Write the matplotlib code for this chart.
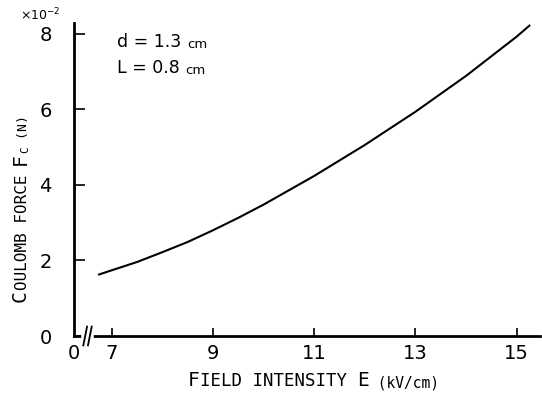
import matplotlib
matplotlib.use("Agg")
import matplotlib.pyplot as plt

# curve (E in kV/cm, Fc in 1e-2 N)
field = [6.75, 7, 7.5, 8, 8.5, 9, 9.5, 10, 11, 12, 13, 14, 15, 15.25]
force = [1.63, 1.74, 1.96, 2.22, 2.49, 2.80, 3.13, 3.48, 4.24, 5.06, 5.94, 6.89, 7.93, 8.22]
xticks = [7, 9, 11, 13, 15]
yticks = [0, 2, 4, 6, 8]

plt.rcParams["font.family"] = "DejaVu Sans"
mono = "DejaVu Sans Mono"

fig = plt.figure(figsize=(5.42, 3.96), dpi=100)
ax = fig.add_axes([74 / 542, 60 / 396, 466 / 542, 313 / 396])

ax.plot(field, force, color="black", lw=1.5, clip_on=False)

ax.set_xlim(6.255, 15.46)
ax.set_ylim(0, 8.29)
ax.set_xticks(xticks)
ax.set_yticks(yticks)
ax.tick_params(axis="x", direction="in", length=6, width=1.2, pad=6, labelsize=14)
ax.tick_params(axis="y", direction="in", length=8, width=1.2, pad=16, labelsize=14)
for s in ["top", "right"]:
    ax.spines[s].set_visible(False)
for s in ["left", "bottom"]:
    ax.spines[s].set_linewidth(2)

# axis break on x
tr = ax.transAxes
ax.plot([0.022, 0.036], [0, 0], color="white", lw=4, transform=tr, clip_on=False, zorder=5)
for x0 in [0.020, 0.030]:
    ax.plot([x0, x0 + 0.008], [-0.03, 0.03], color="black", lw=1.3,
            transform=tr, clip_on=False, zorder=6)
ax.text(0, -0.025, "0", transform=tr, ha="center", va="top", fontsize=14)

fig.text(20 / 542, 1 - 15 / 396, "×10$^{-2}$", fontsize=9, va="center")


def chain(parts, x, y, rot=0, family=mono):
    t = fig.text(x, y, parts[0][0], fontsize=parts[0][1], rotation=rot, family=family,
                 ha="left" if rot == 0 else "right", va="baseline" if rot == 0 else "bottom")
    for txt, sz in parts[1:]:
        if rot == 0:
            t = ax.annotate(txt, xy=(1, 0), xycoords=t, fontsize=sz, family=family,
                            ha="left", va="bottom")
        else:
            t = ax.annotate(txt, xy=(1, 1), xycoords=t, fontsize=sz, family=family,
                            rotation=rot, ha="right", va="bottom")
    return t


# parameters
chain([("d = 1.3 ", 12.5), ("cm", 9.5)], 117 / 542, 1 - 47 / 396, family="DejaVu Sans")
chain([("L = 0.8 ", 12.5), ("cm", 9.5)], 117 / 542, 1 - 73 / 396, family="DejaVu Sans")

chain([("F", 14), ("IELD INTENSITY ", 12.5), ("E", 14), (" (kV/cm)", 10.5)],
      188 / 542, 1 - 386 / 396)
chain([("C", 14), ("OULOMB FORCE ", 11.5), ("F", 14), ("C", 8), (" (N)", 9.5)],
      30 / 542, 1 - 302 / 396, rot=90)

fig.savefig("out.png", dpi=100)
